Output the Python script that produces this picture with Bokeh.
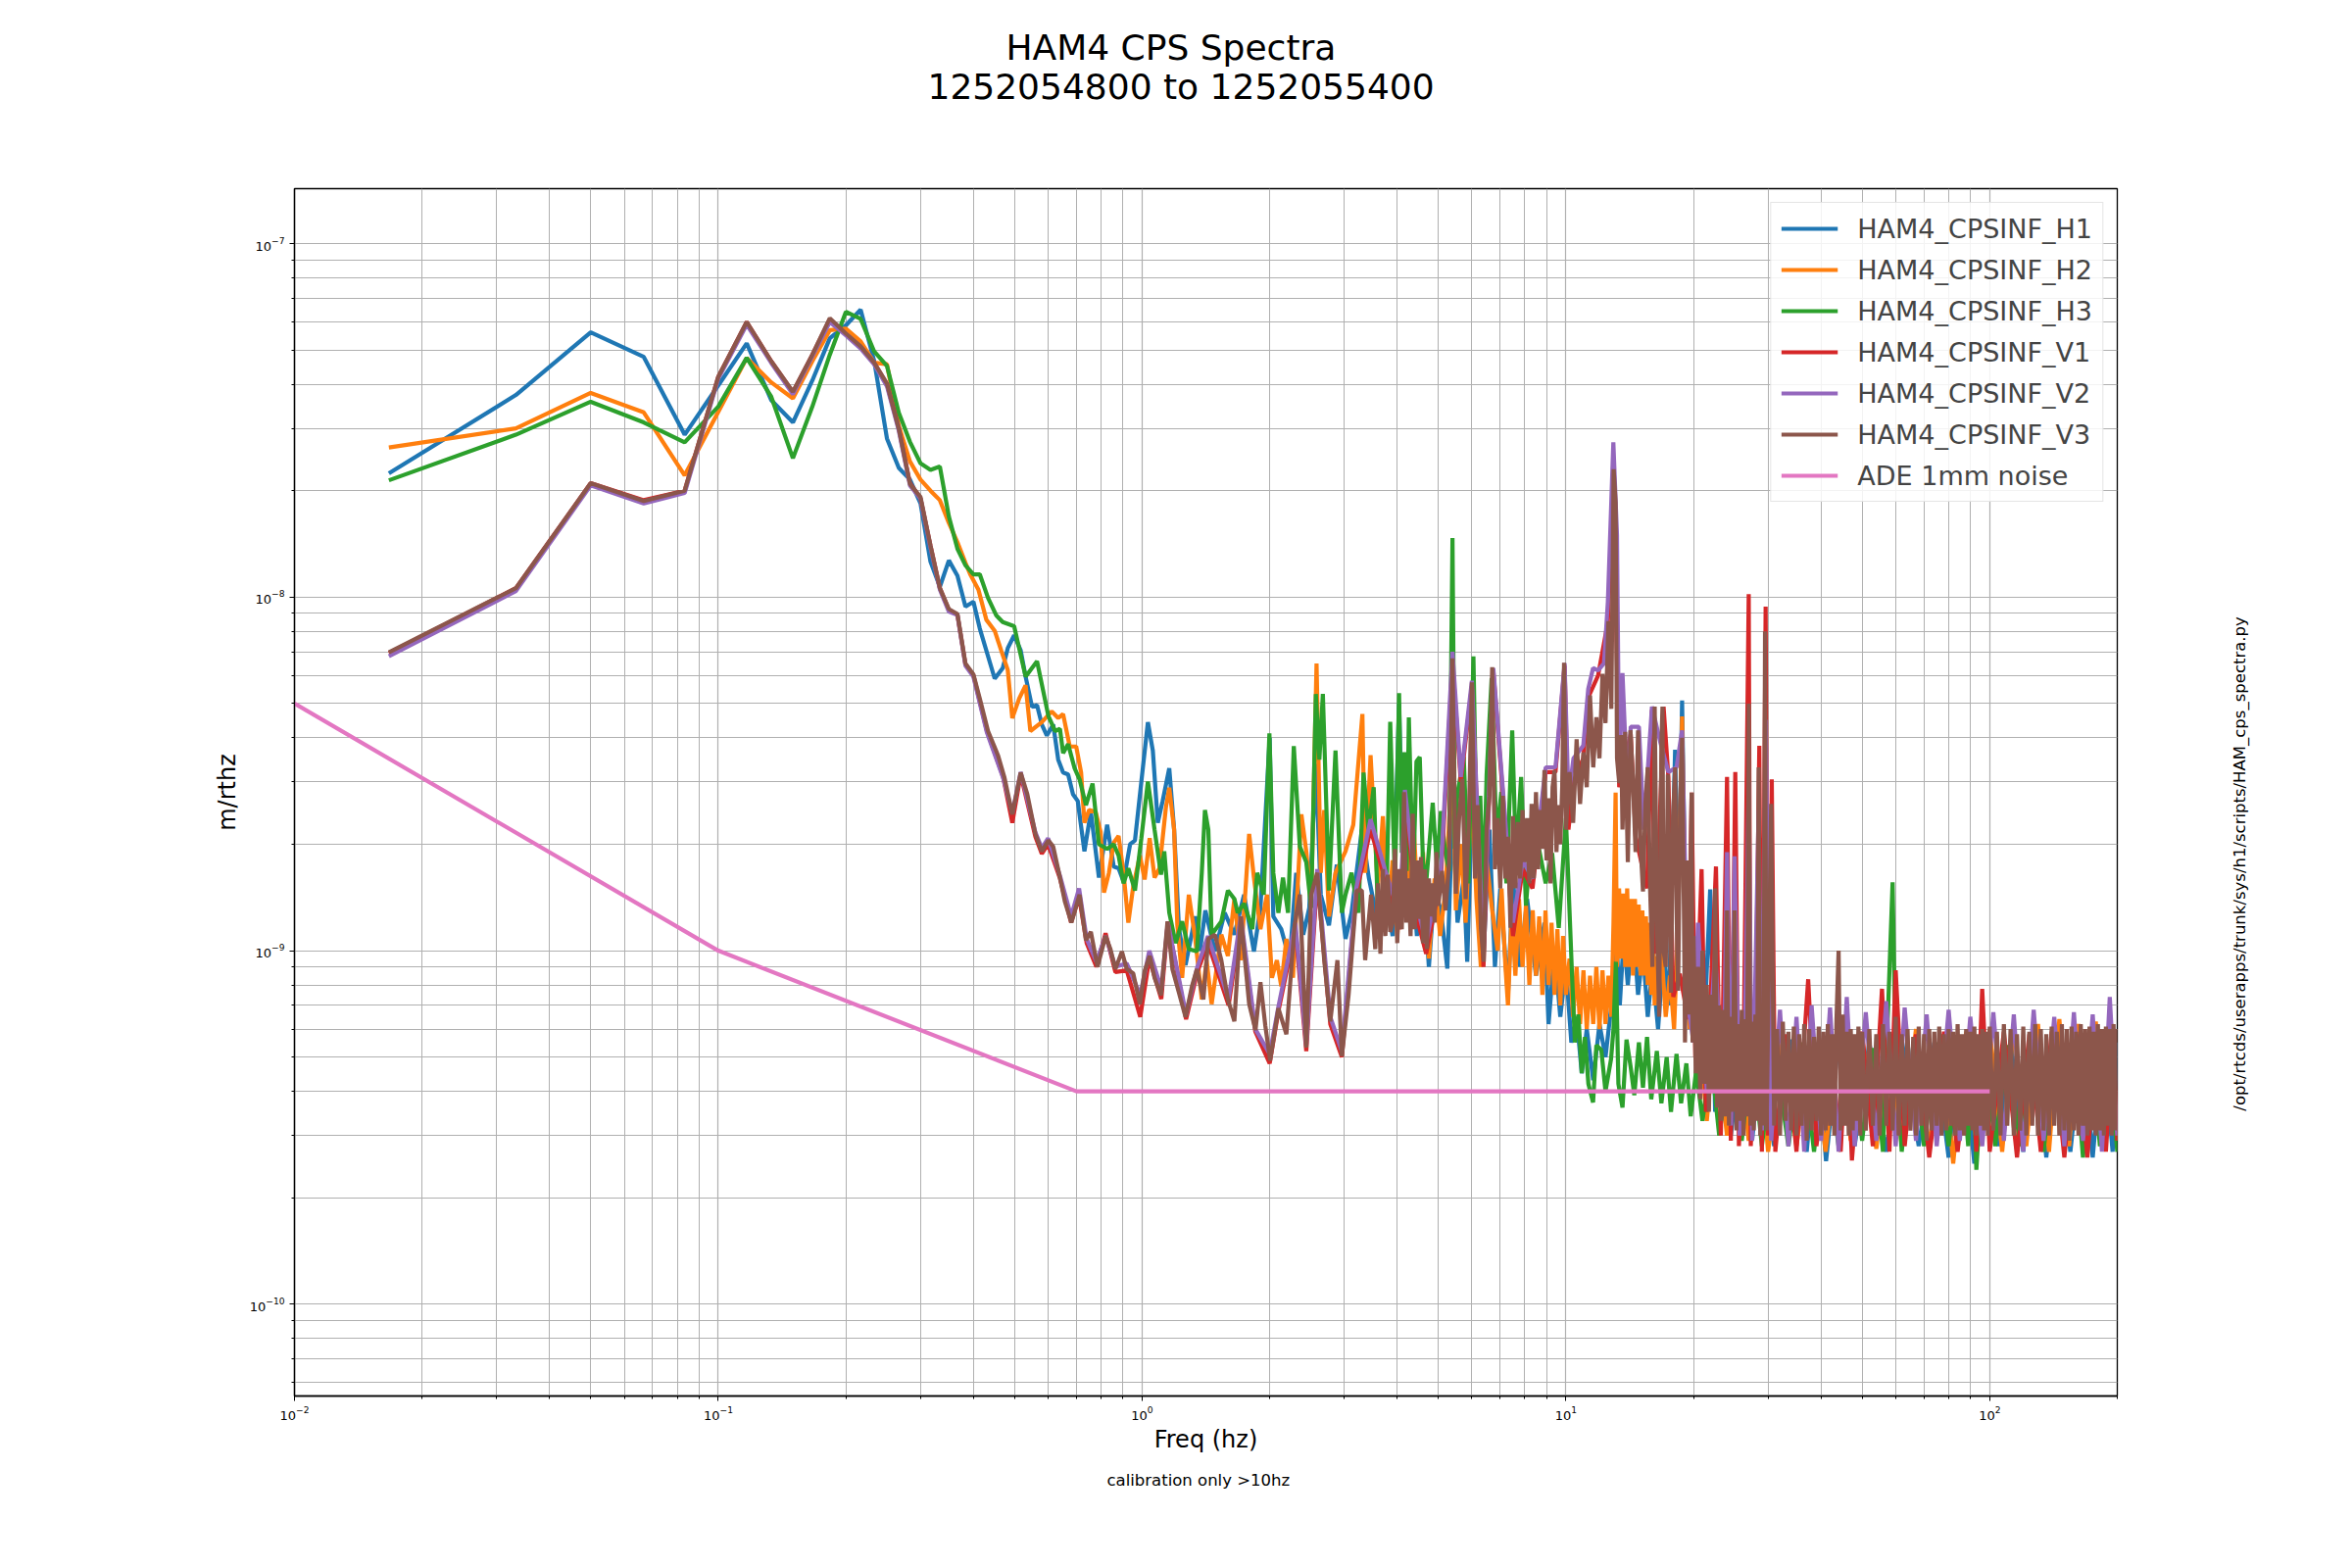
import json
import math
import numpy as np
from bokeh.plotting import figure
from bokeh.models import (Range1d, Legend, LegendItem, FixedTicker, Title, LogAxis,
                          CustomJSTickFormatter)
from bokeh.embed import file_html
from bokeh.resources import INLINE

NM = 1e-9  # all values below are typed in nm/rthz

TITLE = "HAM4 CPS Spectra"
SUBTITLE = "1252054800 to 1252055400"
X_LABEL = "Freq (hz)"
Y_LABEL = "m/rthz"
FOOTNOTE = "calibration only >10hz"
SCRIPT_PATH = "/opt/rtcds/userapps/trunk/sys/h1/scripts/HAM_cps_spectra.py"

NAMES = ["HAM4_CPSINF_H1", "HAM4_CPSINF_H2", "HAM4_CPSINF_H3",
         "HAM4_CPSINF_V1", "HAM4_CPSINF_V2", "HAM4_CPSINF_V3", "ADE 1mm noise"]
COLORS = ["#1f77b4", "#ff7f0e", "#2ca02c", "#d62728", "#9467bd", "#8c564b", "#e377c2"]

# shared low-frequency bins (k/60 Hz)
F_LOW = [0.0167, 0.0333, 0.05, 0.0667, 0.0833, 0.1, 0.1167, 0.1333, 0.15, 0.1667, 0.1833,
         0.2, 0.2167, 0.2333, 0.25, 0.2667, 0.2833, 0.3, 0.3167, 0.3333, 0.35, 0.3667]

H1_LOW = [22.4, 37.3, 56.1, 47.8, 28.8, 39.7, 52.2, 36.1, 31.2, 41.0, 54.0, 58.7, 65.0, 46.5,
          28.1, 23.2, 21.5, 18.4, 12.6, 10.7, 12.7, 11.5]
H2_LOW = [26.5, 30.0, 37.8, 33.3, 22.1, 33.4, 47.5, 40.5, 36.5, 46.5, 56.9, 57.5, 52.9, 46.0,
          45.6, 30.5, 24.2, 21.5, 20.0, 18.8, 16.2, 14.3]
H3_LOW = [21.4, 28.8, 35.7, 31.2, 27.4, 34.6, 47.5, 36.9, 24.7, 34.6, 48.5, 64.1, 61.2, 49.5,
          45.1, 33.2, 27.5, 23.9, 22.9, 23.4, 16.9, 13.7]
V1_LOW = [6.95, 10.6, 21.0, 18.8, 20.0, 42.0, 60.0, 46.5, 38.0, 48.5, 61.0, 55.5, 51.0, 46.0,
          40.0, 30.0, 21.0, 19.0, 14.0, 10.6, 9.2, 8.9]
V2_LOW = [6.8, 10.4, 20.7, 18.4, 19.7, 41.5, 59.0, 46.0, 37.5, 48.0, 60.0, 55.0, 50.5, 45.5,
          39.5, 29.5, 20.7, 19.0, 13.8, 10.5, 9.1, 8.9]
V3_LOW = [6.98, 10.6, 21.0, 18.7, 20.0, 42.0, 60.0, 46.5, 38.1, 48.5, 61.5, 55.7, 51.2, 46.0,
          40.2, 29.9, 20.9, 19.2, 14.0, 10.6, 9.25, 8.96]

# (frequency Hz, value nm/rthz) above 0.37 Hz
H1_REST = [
    (0.383, 9.4), (0.400, 9.7), (0.414, 8.15), (0.449, 5.88), (0.469, 6.3), (0.482, 7.17),
    (0.499, 7.8), (0.517, 7.07), (0.531, 5.96), (0.550, 4.89), (0.565, 4.95), (0.580, 4.36),
    (0.596, 4.06), (0.617, 4.36), (0.634, 3.47), (0.651, 3.19), (0.669, 3.15), (0.687, 2.77),
    (0.705, 2.65), (0.731, 1.91), (0.757, 2.47), (0.791, 1.61), (0.827, 2.27), (0.857, 1.73),
    (0.880, 1.71), (0.904, 1.57), (0.937, 2.0), (0.962, 2.05), (0.996, 3.01), (1.032, 4.43),
    (1.060, 3.68), (1.089, 2.3), (1.118, 2.65), (1.159, 3.28), (1.19, 2.2), (1.222, 1.15),
    (1.266, 0.91), (1.335, 1.25), (1.37, 1.0), (1.41, 1.3), (1.485, 0.995), (1.566, 1.28),
    (1.651, 1.11), (1.74, 1.44), (1.836, 0.995), (1.902, 1.32), (2.0, 4.0), (2.04, 1.25),
    (2.13, 1.15), (2.23, 0.94), (2.31, 1.66), (2.40, 1.11), (2.48, 1.32), (2.57, 3.38),
    (2.64, 1.44), (2.76, 1.18), (2.88, 1.75), (3.02, 1.08), (3.12, 1.28), (3.30, 2.2),
    (3.43, 1.6), (3.6, 1.2), (3.75, 1.5), (3.9, 1.1), (4.04, 5.0), (4.15, 1.3), (4.3, 2.0),
    (4.45, 1.1), (4.6, 1.6), (4.75, 0.9), (4.9, 1.5), (5.07, 1.3), (5.25, 0.89), (5.4, 2.5),
    (5.55, 1.2), (5.74, 1.6), (5.85, 0.93), (6.05, 3.5), (6.2, 1.4), (6.4, 1.0), (6.6, 2.2),
    (6.8, 0.9), (7.0, 1.5), (7.3, 0.75), (7.5, 1.6), (7.8, 0.9), (8.1, 1.4), (8.5, 0.85),
    (8.9, 1.2), (9.1, 0.62), (9.4, 1.0), (9.7, 0.65), (10.0, 0.9), (10.3, 0.55), (10.6, 0.65),
    (10.9, 0.45), (11.2, 0.6), (11.6, 0.43), (12.0, 0.62), (12.4, 0.5), (12.8, 0.7),
    (13.1, 1.2), (13.4, 0.7), (13.7, 1.1), (14.0, 0.8), (14.4, 1.2), (14.8, 0.75), (15.2, 1.0),
    (15.6, 0.65), (16.0, 0.9), (16.5, 0.6), (17.0, 1.0), (17.5, 0.7), (18.1, 3.7), (18.4, 1.2),
    (18.8, 5.1), (19.2, 1.0), (19.6, 0.6),
    (20.2, 0.8), (21.0, 0.45), (21.9, 1.49), (22.5, 0.35), (23.5, 0.6), (24.5, 0.30), (26, 0.55),
    (27.5, 0.29), (29, 0.55), (31, 0.28), (34, 0.56), (37, 0.27), (39, 0.55), (41.1, 0.254),
    (44, 0.56), (48, 0.28), (52, 0.55), (57, 0.27), (62, 0.56), (68, 0.28), (74, 0.55),
    (80, 0.26), (86, 0.56), (92, 0.25), (98, 0.55), (105, 0.28), (112, 0.56), (120, 0.27),
    (128, 0.55), (136, 0.26), (145, 0.56), (155, 0.27), (165, 0.55), (175, 0.26), (185, 0.56),
    (195, 0.27), (200, 0.55),
]

H2_REST = [
    (0.383, 12.5), (0.393, 11.6), (0.411, 10.5), (0.429, 8.63), (0.449, 8.03), (0.465, 7.07),
    (0.482, 6.22), (0.494, 4.55), (0.513, 5.17), (0.531, 5.63), (0.545, 4.18), (0.580, 4.43),
    (0.612, 4.75), (0.634, 4.55), (0.651, 4.67), (0.675, 3.78), (0.699, 3.78), (0.718, 3.19),
    (0.731, 2.3), (0.750, 2.5), (0.777, 2.47), (0.798, 2.17), (0.813, 1.46), (0.835, 1.66),
    (0.857, 2.02), (0.880, 2.11), (0.904, 1.66), (0.928, 1.2), (0.953, 1.52), (0.988, 1.86),
    (1.014, 1.59), (1.042, 2.08), (1.070, 1.61), (1.099, 1.71), (1.138, 2.54), (1.159, 2.89),
    (1.190, 2.2), (1.211, 1.18), (1.243, 0.838), (1.289, 1.44), (1.335, 1.08), (1.383, 0.728),
    (1.420, 0.94), (1.459, 0.706), (1.538, 1.11), (1.594, 0.966), (1.651, 1.4), (1.710, 0.94),
    (1.789, 2.14), (1.836, 1.61), (1.902, 1.15), (1.971, 1.44), (2.025, 0.838), (2.08, 0.94),
    (2.13, 0.793), (2.19, 1.08), (2.27, 0.838), (2.376, 2.43), (2.44, 1.91), (2.505, 1.34),
    (2.58, 6.49), (2.64, 1.66), (2.69, 2.5), (2.76, 1.25), (2.86, 1.66), (3.02, 1.91),
    (3.15, 2.27), (3.31, 4.67), (3.36, 1.66), (3.46, 3.57),
    (3.6, 1.5), (3.7, 2.4), (3.8, 1.2), (3.9, 1.8), (4.0, 1.1), (4.1, 1.7), (4.2, 1.3),
    (4.36, 2.4), (4.5, 1.2), (4.6, 1.9), (4.75, 0.95), (4.9, 1.6), (5.05, 1.1), (5.2, 1.5),
    (5.4, 3.5), (5.5, 1.3), (5.65, 2.0), (5.8, 1.2), (6.0, 2.9), (6.15, 1.4), (6.3, 0.9),
    (6.5, 1.8), (6.7, 1.3),
    (6.9, 1.0), (7.05, 1.5), (7.2, 0.9), (7.3, 0.7), (7.45, 1.3), (7.6, 0.85), (7.75, 1.4),
    (7.9, 0.9), (8.05, 1.35), (8.2, 0.8), (8.35, 1.3), (8.5, 0.85), (8.65, 1.25), (8.8, 0.75),
    (8.95, 1.3), (9.1, 0.8), (9.25, 1.2), (9.4, 0.75), (9.55, 1.15), (9.7, 0.7), (9.85, 1.1),
    (10.0, 0.75), (10.2, 0.95), (10.4, 0.65), (10.6, 0.9), (10.8, 0.62), (11.0, 0.88),
    (11.2, 0.6), (11.4, 0.85), (11.6, 0.62), (11.8, 0.9), (12.0, 0.6), (12.2, 0.88),
    (12.4, 0.62), (12.6, 0.85), (12.8, 0.65), (12.95, 1.2), (13.1, 2.8), (13.2, 0.9),
    (13.35, 1.5), (13.5, 0.95), (13.65, 1.45), (13.8, 0.9), (13.95, 1.5), (14.1, 0.9),
    (14.25, 1.4), (14.4, 0.85), (14.55, 1.4), (14.7, 0.9), (14.85, 1.35), (15.0, 0.85),
    (15.15, 1.3), (15.3, 0.85), (15.45, 1.25), (15.6, 0.8), (15.75, 1.2), (15.9, 0.75),
    (16.05, 1.1), (16.2, 0.7), (16.4, 0.95),
    (16.8, 1.0), (17.2, 0.65), (17.6, 0.85), (18.0, 0.6), (18.4, 1.2), (18.8, 4.6), (19.2, 0.9),
    (19.6, 0.6), (20.0, 0.75),
    (20.5, 0.65), (21.5, 0.33), (22.5, 0.60), (24, 0.30), (25.5, 0.58), (27, 0.29), (28.5, 0.56),
    (30, 0.27), (32.5, 0.57), (35, 0.28), (38, 0.58), (41, 0.27), (44, 0.60), (47, 0.29),
    (50, 0.57), (54, 0.275), (58, 0.58), (62, 0.28), (67, 0.60), (72, 0.27), (77, 0.58),
    (82, 0.25), (88, 0.59), (94, 0.28), (100, 0.60), (107, 0.27), (114, 0.61), (122, 0.28),
    (130, 0.62), (138, 0.27), (146, 0.64), (154, 0.28), (162, 0.62), (170, 0.27), (178, 0.63),
    (186, 0.28), (194, 0.62), (200, 0.29),
]

H3_REST = [
    (0.383, 12.3), (0.400, 11.6), (0.414, 11.6), (0.433, 9.95), (0.453, 8.87), (0.469, 8.5),
    (0.499, 8.27), (0.531, 5.96), (0.565, 6.59), (0.601, 4.61), (0.623, 4.18), (0.640, 4.24),
    (0.651, 3.62), (0.669, 3.84), (0.693, 3.28), (0.712, 3.05), (0.737, 2.58), (0.764, 2.97),
    (0.791, 2.0), (0.827, 1.94), (0.857, 2.0), (0.880, 1.86), (0.904, 1.55), (0.928, 1.71),
    (0.962, 1.48), (0.996, 2.08), (1.032, 3.01), (1.070, 2.2), (1.108, 1.64), (1.128, 1.91),
    (1.159, 1.28), (1.200, 1.05), (1.243, 1.21), (1.289, 1.01), (1.347, 0.995), (1.383, 1.66),
    (1.407, 2.5), (1.433, 2.2), (1.459, 1.11), (1.538, 1.21), (1.594, 1.48), (1.651, 1.4),
    (1.681, 1.28), (1.740, 1.36), (1.820, 1.15), (1.869, 1.66), (1.937, 1.44), (1.997, 4.12),
    (2.04, 1.66), (2.097, 1.28), (2.15, 1.61), (2.21, 1.28), (2.28, 3.79), (2.356, 1.97),
    (2.44, 1.78), (2.505, 1.32), (2.57, 5.32), (2.62, 3.47), (2.67, 5.32), (2.76, 1.48),
    (2.86, 3.68), (2.96, 1.28), (3.02, 1.44), (3.12, 1.66), (3.24, 1.28), (3.33, 3.19),
    (3.42, 2.2),
    (3.52, 2.9), (3.60, 1.3), (3.68, 1.46), (3.76, 1.16), (3.85, 4.44), (3.95, 1.55),
    (4.04, 5.35), (4.10, 1.89), (4.16, 3.64), (4.21, 1.68), (4.26, 4.57), (4.36, 1.55),
    (4.44, 3.43), (4.52, 3.53), (4.60, 1.78), (4.68, 1.55), (4.85, 2.62), (4.96, 1.73),
    (5.07, 2.48), (5.18, 1.94), (5.30, 1.68), (5.40, 14.7), (5.47, 1.94), (5.54, 2.74),
    (5.74, 3.53), (5.89, 1.55), (6.05, 6.8), (6.16, 2.06), (6.28, 2.74), (6.39, 1.38),
    (6.50, 3.15), (6.68, 5.9), (6.86, 2.06), (7.04, 2.81), (7.24, 1.55), (7.47, 4.2),
    (7.63, 1.78), (7.84, 3.1), (8.05, 1.34), (8.34, 2.37), (8.64, 1.94), (8.96, 1.55),
    (9.28, 1.89), (9.62, 1.16), (10.0, 2.37), (10.33, 0.875), (10.5, 0.55), (10.7, 0.66),
    (10.9, 0.45), (11.09, 0.57), (11.3, 0.42), (11.59, 0.372), (11.8, 0.54), (12.12, 0.524),
    (12.4, 0.40), (12.78, 0.494), (12.95, 0.60), (13.12, 0.93), (13.3, 0.42), (13.60, 0.36),
    (13.9, 0.56), (14.22, 0.468), (14.5, 0.39), (14.87, 0.55), (15.2, 0.41), (15.54, 0.57),
    (15.9, 0.38), (16.39, 0.52), (16.8, 0.37), (17.29, 0.50), (17.7, 0.35), (18.24, 0.51),
    (18.7, 0.37), (19.24, 0.48), (19.7, 0.34), (20.3, 0.46),
    (21, 0.33), (22, 0.50), (23, 0.30), (24.5, 0.52), (26, 0.29), (27.5, 0.53), (29, 0.28),
    (31, 0.54), (33.5, 0.28), (36, 0.55), (38.5, 0.27), (41, 0.54), (44, 0.28), (47, 0.55),
    (50, 0.29), (53, 0.53), (56, 0.27), (59, 1.56), (60, 0.50), (62, 0.27), (66, 0.54),
    (70, 0.28), (75, 0.55), (80, 0.28), (85, 0.54), (89, 0.28), (91, 0.53), (93, 0.24),
    (97, 0.55), (103, 0.28), (110, 0.54), (118, 0.28), (126, 0.55), (134, 0.27), (142, 0.54),
    (150, 0.28), (158, 0.55), (166, 0.26), (174, 0.54), (182, 0.28), (190, 0.55), (200, 0.27),
]

V1_REST = [
    (0.383, 6.45), (0.40, 6.0), (0.43, 4.2), (0.47, 3.1), (0.494, 2.3), (0.517, 3.15),
    (0.56, 2.1), (0.58, 1.88), (0.60, 2.0), (0.64, 1.6), (0.68, 1.2), (0.71, 1.42), (0.74, 1.05),
    (0.78, 0.90), (0.82, 1.12), (0.865, 0.87), (0.92, 0.88), (0.99, 0.65), (1.04, 0.95),
    (1.11, 0.73), (1.15, 1.2), (1.27, 0.64), (1.35, 0.87), (1.43, 1.05), (1.6, 0.70),
    (1.71, 1.2), (1.85, 0.59), (2.0, 0.48), (2.1, 0.68), (2.3, 1.15), (2.44, 0.52), (2.59, 1.6),
    (2.78, 0.62), (2.96, 0.50), (3.2, 1.45), (3.46, 2.2), (3.74, 1.6), (4.06, 1.15), (4.17, 2.7),
    (4.48, 1.2), (4.68, 0.98), (5.07, 1.6), (5.4, 6.5), (5.65, 3.0), (6.0, 5.6), (6.39, 0.90),
    (6.74, 6.2), (7.11, 2.7), (7.5, 1.1), (7.91, 1.7), (8.34, 1.5), (8.96, 3.2), (9.45, 3.2),
    (9.93, 6.4), (10.14, 2.2), (10.42, 3.0), (10.99, 3.5), (11.29, 5.2), (11.91, 6.0),
    (12.56, 8.5), (12.96, 22.0), (13.36, 2.9), (14.22, 4.1), (14.61, 2.1), (15.54, 1.5),
    (15.96, 4.8), (16.25, 0.98), (17.0, 4.9), (17.45, 3.1), (17.92, 0.74), (18.57, 0.86),
    (19.42, 0.64), (19.8, 2.8), (20.2, 0.50),
    (20.9, 1.7), (21.4, 0.35), (22.6, 1.73), (23.2, 0.30), (24.0, 3.1), (24.5, 0.29),
    (25.1, 3.2), (25.6, 0.28), (26.3, 0.60), (27.0, 10.2), (27.3, 0.28), (28.0, 0.55),
    (28.6, 3.8), (29.0, 0.27), (29.6, 9.4), (30.0, 0.30), (30.6, 3.05), (31.2, 0.27), (33, 0.58),
    (35, 0.27), (37.3, 0.83), (39, 0.28), (42, 0.58), (44.5, 0.27), (46, 0.57), (47.3, 0.255),
    (50, 0.59), (53, 0.28), (55.7, 0.78), (58, 0.27), (60, 0.88), (63, 0.28), (67, 0.58),
    (72, 0.26), (78, 0.59), (84, 0.27), (90, 0.58), (93, 0.27), (96, 0.78), (100, 0.27),
    (108, 0.59), (116, 0.26), (124, 0.58), (132, 0.27), (140, 0.59), (150, 0.26), (160, 0.58),
    (170, 0.26), (180, 0.59), (188, 0.27), (196, 0.60), (200, 0.29),
]

V2_REST = [
    (0.383, 6.4), (0.40, 5.95), (0.43, 4.15), (0.47, 3.08), (0.494, 2.45), (0.517, 3.2),
    (0.56, 2.16), (0.58, 1.95), (0.60, 2.08), (0.64, 1.63), (0.68, 1.25), (0.71, 1.5),
    (0.74, 1.08), (0.78, 0.93), (0.82, 1.1), (0.865, 0.90), (0.92, 0.92), (0.99, 0.75),
    (1.04, 1.0), (1.11, 0.78), (1.15, 1.2), (1.27, 0.66), (1.35, 0.90), (1.43, 1.1), (1.6, 0.73),
    (1.71, 1.25), (1.85, 0.60), (2.0, 0.51), (2.1, 0.70), (2.3, 1.2), (2.44, 0.54), (2.59, 1.7),
    (2.78, 0.65), (2.96, 0.52), (3.2, 1.5), (3.46, 2.35), (3.74, 1.7), (4.06, 1.25),
    (4.17, 2.85), (4.48, 1.3), (4.68, 1.05), (5.07, 1.7), (5.4, 7.0), (5.65, 3.1), (6.0, 5.8),
    (6.39, 0.98), (6.74, 6.3), (7.11, 2.8), (7.5, 1.2), (7.91, 1.8), (8.34, 1.6), (8.96, 3.3),
    (9.45, 3.3), (9.93, 6.5), (10.14, 2.7), (10.42, 3.5), (10.99, 3.8), (11.29, 5.5),
    (11.59, 6.3), (11.91, 6.2), (12.3, 6.5), (12.56, 9.7), (12.94, 27.4), (13.2, 15.0),
    (13.36, 3.1), (13.6, 6.1), (14.0, 2.6), (14.22, 4.3), (14.87, 4.3), (15.27, 2.2),
    (15.96, 4.9), (16.69, 3.9), (17.45, 3.2), (18.24, 3.3), (18.8, 4.2), (19.42, 0.70),
    (20.0, 0.55),
    (20.5, 1.2), (21.5, 0.40), (22.5, 1.0), (23.5, 0.35), (24.0, 1.9), (24.5, 0.32), (25.0, 1.85),
    (25.7, 0.30), (26.5, 0.68), (27.0, 3.0), (27.5, 0.29), (28.5, 2.5), (29.0, 0.31), (29.6, 4.5),
    (30.5, 0.29), (32, 0.68), (33.5, 0.28), (35, 0.65), (36.5, 0.27), (38, 0.70), (40, 0.29),
    (42, 0.69), (44, 0.27), (46, 0.74), (48, 0.28), (51, 0.67), (54, 0.29), (57, 0.72),
    (60, 0.28), (63, 0.69), (67, 0.29), (71, 0.66), (75, 0.28), (80, 0.68), (85, 0.29),
    (90, 0.65), (96, 0.28), (102, 0.67), (108, 0.29), (114, 0.66), (120, 0.27), (127, 0.68),
    (134, 0.29), (142, 0.65), (150, 0.28), (158, 0.67), (166, 0.29), (175, 0.66), (184, 0.27),
    (192, 0.74), (200, 0.30),
]

V3_REST = [
    (0.383, 6.49), (0.400, 6.04), (0.414, 5.17), (0.433, 4.18), (0.457, 3.57), (0.473, 3.1),
    (0.494, 2.43), (0.517, 3.19), (0.536, 2.77), (0.560, 2.14), (0.580, 1.91), (0.601, 2.05),
    (0.617, 1.97), (0.640, 1.61), (0.657, 1.38), (0.681, 1.2), (0.712, 1.44), (0.737, 1.07),
    (0.757, 1.13), (0.785, 0.90), (0.820, 1.1), (0.842, 1.01), (0.865, 0.887), (0.896, 0.995),
    (0.920, 0.887), (0.953, 0.863), (0.988, 0.706), (1.014, 0.875), (1.042, 0.966),
    (1.070, 0.838), (1.108, 0.748), (1.148, 1.21), (1.179, 0.887), (1.222, 0.759),
    (1.266, 0.649), (1.311, 0.793), (1.347, 0.887), (1.395, 0.728), (1.433, 1.08), (1.485, 1.11),
    (1.538, 0.94), (1.594, 0.728), (1.651, 0.631), (1.710, 1.25), (1.789, 0.706), (1.852, 0.596),
    (1.902, 0.815), (1.953, 0.614), (2.005, 0.489), (2.097, 0.687), (2.19, 0.58), (2.29, 1.18),
    (2.356, 1.44), (2.44, 0.532), (2.505, 1.44), (2.59, 1.66), (2.69, 0.94), (2.78, 0.631),
    (2.89, 0.94), (2.96, 0.503), (3.07, 0.748), (3.21, 1.48), (3.30, 1.48), (3.36, 0.94),
    (3.47, 1.44),
    (3.55, 1.01), (3.60, 1.55), (3.65, 0.98), (3.70, 1.7), (3.75, 1.1), (3.80, 1.64),
    (3.85, 1.13), (3.90, 1.2), (3.95, 1.94), (4.00, 1.05), (4.05, 1.7), (4.10, 1.15),
    (4.15, 2.81), (4.20, 1.2), (4.25, 1.6), (4.30, 1.1), (4.35, 2.44), (4.40, 1.15), (4.45, 1.8),
    (4.50, 1.23), (4.55, 1.84), (4.60, 1.05), (4.65, 1.7), (4.70, 1.01), (4.75, 1.6),
    (4.80, 1.25), (4.85, 1.55), (4.90, 1.2), (4.95, 1.9), (5.0, 1.34),
    (5.1, 1.68), (5.2, 1.3), (5.3, 1.78), (5.4, 6.71), (5.5, 1.45), (5.6, 2.4), (5.7, 3.06),
    (5.8, 1.4), (5.9, 2.3), (6.0, 5.74), (6.1, 1.6), (6.2, 2.58), (6.3, 1.16), (6.4, 0.93),
    (6.5, 2.2), (6.6, 2.74), (6.7, 6.34), (6.8, 1.7), (6.9, 2.37), (7.0, 1.5), (7.1, 2.74),
    (7.2, 1.6), (7.3, 2.1), (7.4, 1.16), (7.5, 2.4), (7.6, 1.5), (7.7, 2.31), (7.8, 1.6),
    (7.9, 2.5), (8.0, 1.78), (8.1, 2.37), (8.2, 1.55), (8.3, 2.6), (8.4, 1.6), (8.5, 2.81),
    (8.6, 1.7), (8.7, 2.5), (8.8, 1.94), (8.9, 3.24), (9.0, 1.8), (9.1, 2.7), (9.2, 1.55),
    (9.3, 2.9), (9.4, 3.24), (9.5, 1.9), (9.6, 2.58), (9.7, 2.0), (9.8, 2.9), (9.9, 6.52),
    (10.0, 2.2),
    (10.2, 3.2), (10.4, 2.3), (10.6, 3.96), (10.8, 2.6), (11.0, 3.64), (11.2, 2.9),
    (11.4, 5.27), (11.6, 3.3), (11.8, 4.57), (12.0, 3.5), (12.2, 6.07), (12.4, 4.4),
    (12.6, 8.55), (12.8, 4.83), (12.96, 23.0), (13.1, 18.5), (13.2, 3.5), (13.36, 2.98),
    (13.5, 4.07), (13.6, 2.2), (13.8, 4.16), (14.0, 1.78), (14.2, 4.2), (14.4, 3.0),
    (14.6, 1.9), (14.8, 4.2), (15.0, 2.0), (15.2, 1.47), (15.4, 2.6), (15.6, 3.3), (15.8, 1.5),
    (16.0, 0.9), (16.2, 4.9), (16.4, 1.2), (16.6, 0.65), (16.8, 3.85), (16.9, 4.9), (17.0, 1.0),
    (17.2, 0.9), (17.4, 3.15), (17.5, 2.0), (17.7, 0.76), (17.9, 2.4), (18.1, 3.3), (18.3, 1.0),
    (18.4, 0.77), (18.6, 2.5), (18.8, 4.0), (19.0, 1.2), (19.1, 0.55), (19.3, 1.8),
    (19.5, 0.66), (19.8, 2.8), (19.9, 0.55),
]

# V3 dense band: values on 20-29.75 (0.25 Hz bins), 30-49.5 (0.5), 50-99 (1), 100-200 (2)
V3_BAND_20 = [1.1, 0.45, 0.9, 0.38, 1.0, 0.42, 0.8, 0.35, 0.75, 0.40,
              1.5, 0.36, 0.70, 0.33, 0.68, 0.34, 1.3, 0.32, 0.65, 0.35,
              1.3, 0.31, 0.62, 0.33, 0.68, 0.30, 0.64, 0.34, 5.0, 0.32,
              0.63, 0.31, 0.66, 0.33, 3.3, 0.30, 0.62, 0.32, 8.0, 0.31]
V3_BAND_30 = [0.64, 2.6, 0.32, 0.60, 0.30, 0.63, 0.33, 0.59, 0.31, 0.61,
              0.30, 0.58, 0.32, 0.62, 0.29, 0.60, 0.31, 0.57, 0.33, 0.61,
              0.30, 0.59, 0.31, 0.62, 0.32, 0.58, 0.30, 0.64, 1.0, 0.31,
              0.66, 0.32, 0.59, 0.30, 0.60, 0.31, 0.58, 0.33, 0.61, 0.30]
V3_BAND_50 = [0.59, 0.31, 0.60, 0.32, 0.58, 0.30, 0.62, 0.32, 0.59, 0.31,
              0.65, 0.30, 0.58, 0.32, 0.60, 0.31, 0.57, 0.30, 0.61, 0.32,
              0.58, 0.29, 0.60, 0.31, 0.59, 0.32, 0.61, 0.30, 0.58, 0.31,
              0.60, 0.32, 0.59, 0.30, 0.62, 0.31, 0.58, 0.30, 0.60, 0.32,
              0.59, 0.31, 0.61, 0.30, 0.58, 0.32, 0.60, 0.31, 0.59, 0.30]
V3_BAND_100 = [0.61, 0.31, 0.59, 0.30, 0.62, 0.32, 0.60, 0.30, 0.58, 0.31,
               0.61, 0.30, 0.59, 0.32, 0.62, 0.30, 0.60, 0.31, 0.58, 0.30,
               0.61, 0.32, 0.59, 0.30, 0.62, 0.31, 0.60, 0.29, 0.61, 0.31,
               0.59, 0.30, 0.62, 0.32, 0.60, 0.30, 0.61, 0.31, 0.59, 0.30,
               0.62, 0.31, 0.60, 0.30, 0.61, 0.32, 0.60, 0.30, 0.62, 0.31,
               0.60]
BAND_GRIDS = [(20.0, 30.0, 0.25), (30.0, 50.0, 0.5), (50.0, 100.0, 1.0), (100.0, 201.0, 2.0)]

ADE_F = [0.01, 0.1, 0.7, 100.0]
ADE_V = [5.0, 1.0, 0.4, 0.4]


def build(low, rest):
    f = list(F_LOW) + [a for a, _ in rest]
    v = list(low) + [b for _, b in rest]
    return f, v


series = [build(H1_LOW, H1_REST), build(H2_LOW, H2_REST), build(H3_LOW, H3_REST),
          build(V1_LOW, V1_REST), build(V2_LOW, V2_REST)]
f3, v3 = build(V3_LOW, V3_REST)
for (a, b, s), vals in zip(BAND_GRIDS, [V3_BAND_20, V3_BAND_30, V3_BAND_50, V3_BAND_100]):
    grid = list(np.arange(a, b, s))
    n = min(len(grid), len(vals))
    f3 += grid[:n]
    v3 += vals[:n]
series.append((f3, v3))
series.append((ADE_F, ADE_V))

FONT = "DejaVu Sans"
Y_LO, Y_HI = 5.5e-11, 1.43e-7
FRAME_LEFT = 300

p = figure(width=2392, height=1590, x_axis_type="log", y_axis_type="log",
           x_range=Range1d(0.01, 200), y_range=Range1d(Y_LO, Y_HI),
           output_backend="svg", toolbar_location=None,
           min_border_left=FRAME_LEFT, min_border_right=232, min_border_top=192,
           min_border_bottom=166)
p.background_fill_color = "white"
p.border_fill_color = "white"
p.outline_line_color = "black"
p.outline_line_width = 1.3

xt = FixedTicker(ticks=[0.01, 0.1, 1, 10, 100],
                 minor_ticks=[m * 10.0 ** e for e in range(-2, 3) for m in range(2, 10)
                              if m * 10.0 ** e <= 200])
yt = FixedTicker(ticks=[1e-10, 1e-9, 1e-8, 1e-7],
                 minor_ticks=[m * 10.0 ** e for e in range(-11, -7) for m in range(2, 10)
                              if Y_LO <= m * 10.0 ** e <= Y_HI])
p.xaxis.ticker = xt
p.yaxis.ticker = yt
p.xgrid.ticker = xt
p.ygrid.ticker = yt
for g in (p.xgrid, p.ygrid):
    g.grid_line_color = "#b0b0b0"
    g.grid_line_width = 1.2
    g.minor_grid_line_color = "#b0b0b0"
    g.minor_grid_line_width = 1.0

for ax in (p.xaxis, p.yaxis):
    ax.axis_line_color = "black"
    ax.axis_line_width = 1.3
    ax.major_tick_line_color = "black"
    ax.minor_tick_line_color = "black"
    ax.major_tick_out = 5
    ax.major_tick_in = 0
    ax.minor_tick_out = 3
    ax.minor_tick_in = 0
    ax.major_label_text_font = FONT
    ax.major_label_text_font_size = "13px"
    ax.major_label_text_color = "black"
    ax.axis_label_text_font = FONT
    ax.axis_label_text_font_size = "24px"
    ax.axis_label_text_font_style = "normal"
    ax.axis_label_text_color = "black"
p.xaxis.axis_label = X_LABEL
p.yaxis.axis_label = Y_LABEL
p.xaxis.axis_label_standoff = 3
p.yaxis.axis_label_standoff = 6

renderers = []
for (f, v), color in zip(series, COLORS):
    r = p.line(np.array(f, dtype=float), np.array(v, dtype=float) * NM,
               line_color=color, line_width=4.2)
    renderers.append(r)

legend = Legend(items=[LegendItem(label=n, renderers=[r]) for n, r in zip(NAMES, renderers)],
                location="top_right")
legend.label_text_font = FONT
legend.label_text_font_size = "27px"
legend.glyph_width = 58
legend.glyph_height = 32
legend.label_height = 32
legend.label_standoff = 20
legend.spacing = 10
legend.padding = 10
legend.margin = 14
legend.border_line_color = "#cccccc"
legend.border_line_width = 1.3
legend.background_fill_alpha = 0.85
p.add_layout(legend)

# above panel, stacked outward from the frame: spacer, subtitle, title
p.add_layout(Title(text=" ", text_font=FONT, text_font_size="2px", standoff=80), "above")
p.add_layout(Title(text=SUBTITLE, align="left", offset=1206 - 260 - FRAME_LEFT,
                   text_font=FONT, text_font_size="36px", text_font_style="normal",
                   text_color="black", standoff=0), "above")
p.add_layout(Title(text=TITLE, align="left", offset=1194 - 168 - FRAME_LEFT,
                   text_font=FONT, text_font_size="36px", text_font_style="normal",
                   text_color="black", standoff=-6), "above")
# footnote below the x axis
p.add_layout(Title(text=FOOTNOTE, align="left", offset=1222 - 93 - FRAME_LEFT,
                   text_font=FONT, text_font_size="16.5px", text_font_style="normal",
                   text_color="black", standoff=26), "below")

# script path, vertical text on the right (rendered as a single tick label, reading upward)
y_start = 3.52e-10
right_axis = LogAxis(ticker=FixedTicker(ticks=[y_start]),
                     formatter=CustomJSTickFormatter(code="return " + json.dumps(SCRIPT_PATH) + ";"))
right_axis.axis_line_color = None
right_axis.major_tick_line_color = None
right_axis.minor_tick_line_color = None
right_axis.major_tick_out = 0
right_axis.major_tick_in = 0
right_axis.minor_tick_out = 0
right_axis.major_label_orientation = math.pi / 2
right_axis.major_label_standoff = 125
right_axis.major_label_text_font = FONT
right_axis.major_label_text_font_size = "16.5px"
right_axis.major_label_text_color = "black"
p.add_layout(right_axis, "right")

open("out.html", "w").write(file_html(p, INLINE))
